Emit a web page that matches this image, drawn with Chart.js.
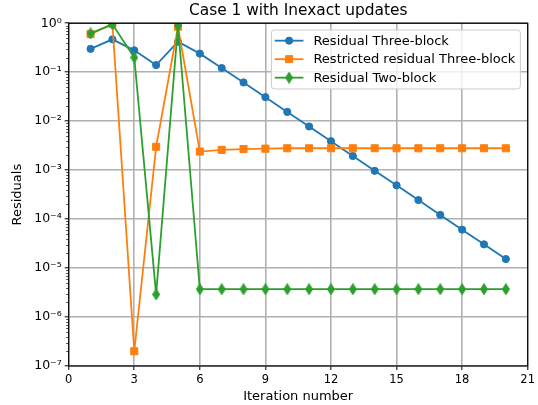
<!DOCTYPE html>
<html>
<head>
<meta charset="utf-8">
<script src="https://cdn.jsdelivr.net/npm/chart.js@4/dist/chart.umd.min.js"></script>
<style>
  body { margin: 0; background: #fff; }
</style>
</head>
<body>
<canvas id="grafico" width="538" height="405"></canvas>
<script>
// data
const iteracoes = [1, 2, 3, 4, 5, 6, 7, 8, 9, 10, 11, 12, 13, 14, 15, 16, 17, 18, 19, 20];
const residualTres = [0.30, 0.47, 0.28, 0.14, 0.42, 0.24, 0.122, 0.062, 0.031, 0.0155,
  0.0078, 0.0039, 0.00195, 0.00097, 0.00049, 0.000245, 0.000122, 6.1e-5, 3.05e-5, 1.53e-5];
const restritoTres = [0.6, 0.97, 2e-7, 3.0e-3, 0.85, 2.4e-3, 2.6e-3, 2.7e-3, 2.75e-3, 2.8e-3,
  2.8e-3, 2.8e-3, 2.8e-3, 2.8e-3, 2.8e-3, 2.8e-3, 2.8e-3, 2.8e-3, 2.8e-3, 2.8e-3];
const residualDois = [0.62, 0.95, 0.2, 2.9e-6, 0.9, 3.7e-6, 3.7e-6, 3.7e-6, 3.7e-6, 3.7e-6,
  3.7e-6, 3.7e-6, 3.7e-6, 3.7e-6, 3.7e-6, 3.7e-6, 3.7e-6, 3.7e-6, 3.7e-6, 3.7e-6];
const xTicks = [0, 3, 6, 9, 12, 15, 18, 21];
const yExpoentes = [-7, -6, -5, -4, -3, -2, -1, 0];

const azul = '#1f77b4', laranja = '#ff7f0e', verde = '#2ca02c';
const fonte = 'DejaVu Sans';

Chart.defaults.font.family = fonte;
Chart.defaults.color = '#000';

const sup = { '-': '⁻', '0': '⁰', '1': '¹', '2': '²', '3': '³', '4': '⁴', '5': '⁵', '6': '⁶', '7': '⁷', '8': '⁸', '9': '⁹' };
const potencia = e => '10' + String(e).split('').map(c => sup[c]).join('');

// matplotlib style thin diamond ('d')
function losangoFino(cor) {
  const c = document.createElement('canvas');
  c.width = 8; c.height = 12;
  const g = c.getContext('2d');
  g.fillStyle = cor; g.strokeStyle = cor; g.lineWidth = 1;
  g.beginPath();
  g.moveTo(4, 0.5); g.lineTo(7.5, 6); g.lineTo(4, 11.5); g.lineTo(0.5, 6);
  g.closePath(); g.fill(); g.stroke();
  return c;
}

const pontos = arr => iteracoes.map((x, i) => ({ x, y: arr[i] }));

const moldura = {
  id: 'moldura',
  afterDatasetsDraw(chart) {
    const { ctx, chartArea: a } = chart;
    const y = chart.scales.y;
    ctx.save();
    // minor ticks of the log axis
    ctx.strokeStyle = '#000';
    ctx.lineWidth = 0.7;
    yExpoentes.slice(0, -1).forEach(e => {
      for (let m = 2; m <= 9; m++) {
        const py = Math.round(y.getPixelForValue(m * Math.pow(10, e))) + 0.5;
        ctx.beginPath(); ctx.moveTo(a.left - 2.5, py); ctx.lineTo(a.left, py); ctx.stroke();
      }
    });
    ctx.lineWidth = 1.2;
    ctx.strokeRect(a.left, a.top, a.right - a.left, a.bottom - a.top);
    ctx.restore();
  }
};

function desenhaMarcador(ctx, d, x, y) {
  const st = d.pointStyle;
  if (typeof st === 'object') {
    ctx.drawImage(st, x - st.width / 2, y - st.height / 2);
    return;
  }
  ctx.fillStyle = d.backgroundColor;
  ctx.strokeStyle = d.borderColor;
  ctx.lineWidth = 1;
  ctx.beginPath();
  if (st === 'rect') {
    const s = Math.SQRT1_2 * d.pointRadius;
    ctx.rect(x - s, y - s, 2 * s, 2 * s);
  } else {
    ctx.arc(x, y, d.pointRadius, 0, Math.PI * 2);
  }
  ctx.fill(); ctx.stroke();
}

const legendaInterna = {
  id: 'legendaInterna',
  afterDraw(chart) {
    const { ctx, chartArea: a } = chart;
    const ds = chart.data.datasets;
    ctx.save();
    ctx.font = '13px "' + fonte + '"';
    const largTexto = Math.max(...ds.map(d => ctx.measureText(d.label).width));
    const w = 42 + largTexto + 5, h = 59, r = 3;
    const x0 = a.right - 7.3 - w, y0 = a.top + 6.7;
    ctx.beginPath();
    ctx.moveTo(x0 + r, y0);
    ctx.arcTo(x0 + w, y0, x0 + w, y0 + h, r);
    ctx.arcTo(x0 + w, y0 + h, x0, y0 + h, r);
    ctx.arcTo(x0, y0 + h, x0, y0, r);
    ctx.arcTo(x0, y0, x0 + w, y0, r);
    ctx.closePath();
    ctx.fillStyle = 'rgba(255,255,255,0.8)';
    ctx.fill();
    ctx.strokeStyle = '#cccccc';
    ctx.lineWidth = 1;
    ctx.stroke();
    ds.forEach((d, i) => {
      const y = y0 + 10.7 + i * 18.5;
      ctx.strokeStyle = d.borderColor;
      ctx.lineWidth = d.borderWidth;
      ctx.beginPath(); ctx.moveTo(x0 + 3.3, y); ctx.lineTo(x0 + 32, y); ctx.stroke();
      desenhaMarcador(ctx, d, x0 + 17.7, y);
      ctx.fillStyle = '#000';
      ctx.textBaseline = 'middle';
      ctx.textAlign = 'left';
      ctx.fillText(d.label, x0 + 42, y + 0.5);
    });
    ctx.restore();
  }
};

const grid = { color: '#b0b0b0', lineWidth: 1.6, tickColor: '#000', tickWidth: 1, tickLength: 4 };

new Chart(document.getElementById('grafico').getContext('2d'), {
  type: 'line',
  data: {
    datasets: [
      {
        label: 'Residual Three-block', data: pontos(residualTres), order: 3,
        borderColor: azul, backgroundColor: azul, borderWidth: 1.8,
        pointStyle: 'circle', pointRadius: 3.6, pointBorderWidth: 1, clip: 0
      },
      {
        label: 'Restricted residual Three-block', data: pontos(restritoTres), order: 2,
        borderColor: laranja, backgroundColor: laranja, borderWidth: 1.8,
        pointStyle: 'rect', pointRadius: 5, pointBorderWidth: 1, clip: 0
      },
      {
        label: 'Residual Two-block', data: pontos(residualDois), order: 1,
        borderColor: verde, backgroundColor: verde, borderWidth: 1.8,
        pointStyle: losangoFino(verde), pointRadius: 5, pointBorderWidth: 0, clip: 0
      }
    ]
  },
  options: {
    responsive: false,
    animation: false,
    devicePixelRatio: 1,
    layout: { padding: { left: 0, right: 10, top: 0, bottom: 0 } },
    plugins: {
      legend: { display: false },
      tooltip: { enabled: false },
      title: {
        display: true, text: 'Case 1 with Inexact updates', fullSize: false,
        color: '#000', font: { size: 15.4, weight: 'normal' }, padding: { top: 1.8, bottom: 3.0 }
      }
    },
    scales: {
      x: {
        type: 'linear', min: 0, max: 21,
        afterBuildTicks: s => { s.ticks = xTicks.map(v => ({ value: v })); },
        afterFit: s => { s.height = 39; },
        ticks: { font: { size: 11.5 }, padding: 3, maxRotation: 0, color: '#000' },
        grid: grid,
        border: { display: false },
        title: { display: true, text: 'Iteration number', font: { size: 13 }, padding: { top: 0, bottom: 0.5 }, color: '#000' }
      },
      y: {
        type: 'logarithmic', min: 1e-7, max: 1,
        afterBuildTicks: s => { s.ticks = yExpoentes.map(e => ({ value: Math.pow(10, e) })); },
        afterFit: s => { s.width = 68.7; },
        ticks: {
          font: { size: 12.5 }, padding: 3, color: '#000',
          callback: v => potencia(Math.round(Math.log10(v)))
        },
        grid: grid,
        border: { display: false },
        title: { display: true, text: 'Residuals', font: { size: 13 }, padding: { top: 9.5, bottom: 0 }, color: '#000' }
      }
    }
  },
  plugins: [moldura, legendaInterna]
});
</script>
</body>
</html>
